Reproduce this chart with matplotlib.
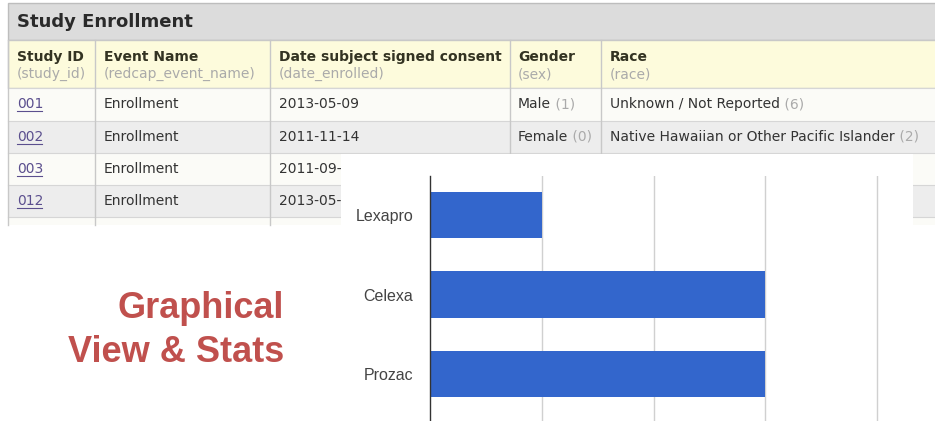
import matplotlib
matplotlib.use("Agg")
import matplotlib.pyplot as plt
from matplotlib.patches import Rectangle

# ---------------- data ----------------
drugs = ["Lexapro", "Celexa", "Prozac"]
counts = [1, 3, 3]
x_ticks = [1, 2, 3, 4]

table_title = "Study Enrollment"
col_headers = ["Study ID", "Event Name", "Date subject signed consent", "Gender", "Race"]
col_fields = ["(study_id)", "(redcap_event_name)", "(date_enrolled)", "(sex)", "(race)"]
study_ids = ["001", "002", "003", "012"]
event_names = ["Enrollment", "Enrollment", "Enrollment", "Enrollment"]
dates = ["2013-05-09", "2011-11-14", "2011-09-22", "2013-05-14"]
genders = ["Male", "Female", "Female", "Male"]
gender_codes = ["(1)", "(0)", "(0)", "(1)"]
races = ["Unknown / Not Reported", "Native Hawaiian or Other Pacific Islander", "White", "White"]
race_codes = ["(6)", "(2)", "(5)", "(5)"]

overlay_text = "Graphical\nView & Stats"

# ---------------- figure ----------------
W, H = 935, 421
fig = plt.figure(figsize=(W / 100, H / 100), dpi=100)
fig.patch.set_facecolor("white")

bg = fig.add_axes([0, 0, 1, 1])
bg.set_xlim(0, W)
bg.set_ylim(H, 0)
bg.axis("off")

tf = "DejaVu Sans"
dark = "#333333"
grey = "#aaaaaa"
border = "#c8c8c8"

left, right = 8, 960
# title bar
bg.add_patch(Rectangle((left, 3), right - left, 37, facecolor="#dcdcdc", edgecolor="#bdbdbd", lw=1))
bg.text(17, 22, table_title, family=tf, weight="bold", fontsize=13, color="#2a2a2a", va="center", ha="left")
# header
bg.add_patch(Rectangle((left, 40), right - left, 48, facecolor="#fdfbdc", edgecolor=border, lw=1))

col_x = [8, 95, 270, 510, 601, 960]
text_x = [17, 104, 279, 518, 610]

row_tops = [88, 120.5, 153, 185, 217]
row_h = 32.5
row_cols = ["#fbfbf7", "#ededed", "#fbfbf7", "#ededed", "#fbfbf7"]
for top, c in zip(row_tops, row_cols):
    bg.add_patch(Rectangle((left, top), right - left, row_h if top < 217 else 8,
                           facecolor=c, edgecolor="none"))
    bg.plot([left, right], [top, top], color="#d6d6d6", lw=0.8)
for x in col_x[:-1]:
    bg.plot([x, x], [40, 225], color=border, lw=1)

for i in range(5):
    bg.text(text_x[i], 57, col_headers[i], family=tf, weight="bold", fontsize=10,
            color="#333322", va="center", ha="left")
    bg.text(text_x[i], 74, col_fields[i], family=tf, fontsize=10,
            color=grey, va="center", ha="left")

for r in range(4):
    yc = row_tops[r] + row_h / 2
    bg.text(text_x[0], yc, study_ids[r], family=tf, fontsize=10, color="#5b4f8e", va="center", ha="left")
    bg.plot([text_x[0], text_x[0] + 25], [yc + 7, yc + 7], color="#5b4f8e", lw=0.8)
    bg.text(text_x[1], yc, event_names[r], family=tf, fontsize=10, color=dark, va="center", ha="left")
    bg.text(text_x[2], yc, dates[r], family=tf, fontsize=10, color=dark, va="center", ha="left")
    tg = bg.text(text_x[3], yc, genders[r], family=tf, fontsize=10, color=dark, va="center", ha="left")
    bg.annotate(" " + gender_codes[r], xy=(1, 0), xycoords=tg, family=tf, fontsize=10,
                color=grey, va="bottom", ha="left")
    tr = bg.text(text_x[4], yc, races[r], family=tf, fontsize=10, color=dark, va="center", ha="left")
    bg.annotate(" " + race_codes[r], xy=(1, 0), xycoords=tr, family=tf, fontsize=10,
                color=grey, va="bottom", ha="left")

# white overlay box for the chart
bg.add_patch(Rectangle((341, 154), 913 - 341, 300, facecolor="white", edgecolor="none", zorder=10))

# red overlay text
bg.text(284, 318, "Graphical", family="Liberation Sans", weight="bold", fontsize=26,
        color="#c0504d", ha="right", va="baseline", zorder=11)
bg.text(284, 362, "View & Stats", family="Liberation Sans", weight="bold", fontsize=26,
        color="#c0504d", ha="right", va="baseline", zorder=11)

# ---------------- bar chart ----------------
ax_l, ax_r, ax_t, ax_b = 430, 880, 176, 430
ax = fig.add_axes([ax_l / W, 1 - ax_b / H, (ax_r - ax_l) / W, (ax_b - ax_t) / H])
ax.set_facecolor("none")
ypos = list(range(len(drugs)))
ax.barh(ypos, counts, height=0.58, color="#3366cc", zorder=3)
ax.set_ylim(2 + (ax_b - 374) / 79.5, -(215 - ax_t) / 79.5)
ax.set_xlim(0, (ax_r - ax_l) / 111.75)
ax.set_yticks(ypos)
ax.set_yticklabels(drugs, family="Liberation Sans", fontsize=11.5, color="#444444")
ax.set_xticks(x_ticks)
ax.set_xticklabels([])
ax.tick_params(axis="both", length=0, pad=12)
ax.grid(axis="x", color="#d0d0d0", lw=1, zorder=0)
for s in ["top", "right", "bottom"]:
    ax.spines[s].set_visible(False)
ax.spines["left"].set_color("#333333")
ax.spines["left"].set_linewidth(1)
ax.spines["left"].set_zorder(4)

fig.savefig("out.png", dpi=100)
